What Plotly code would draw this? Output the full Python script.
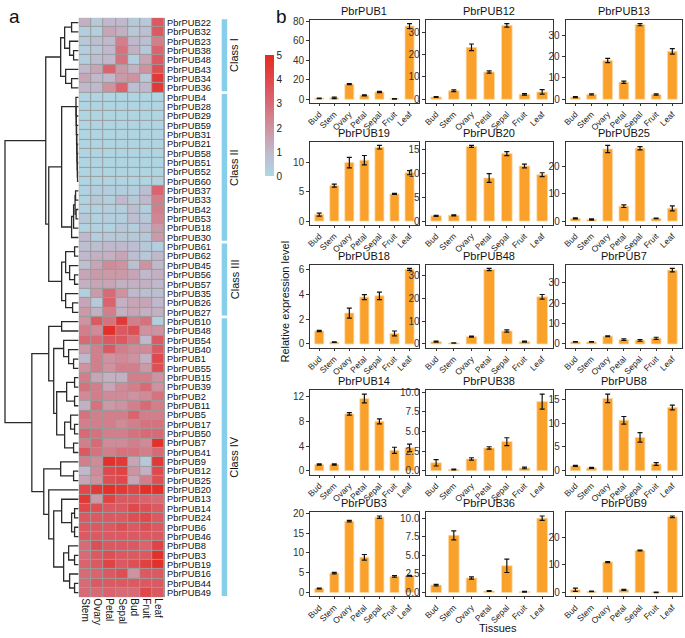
import plotly.graph_objects as go

W, H = 685, 638
FONT = "Liberation Sans, Arial, sans-serif"

# ---------------- heatmap data (panel a) ----------------
heat_cols = ["Stem", "Ovary", "Petal", "Sepal", "Bud", "Fruit", "Leaf"]
heat_genes = [
    "PbrPUB22", "PbrPUB32", "PbrPUB23", "PbrPUB38", "PbrPUB48", "PbrPUB43", "PbrPUB34", "PbrPUB36",
    "PbrPUB4", "PbrPUB28", "PbrPUB29", "PbrPUB59", "PbrPUB31", "PbrPUB21", "PbrPUB58", "PbrPUB51",
    "PbrPUB52", "PbrPUB60", "PbrPUB37", "PbrPUB33", "PbrPUB42", "PbrPUB53", "PbrPUB18", "PbrPUB30",
    "PbrPUB61", "PbrPUB62", "PbrPUB45", "PbrPUB56", "PbrPUB57", "PbrPUB35", "PbrPUB26", "PbrPUB27",
    "PbrPUB10", "PbrPUB48", "PbrPUB54", "PbrPUB40", "PbrPUB1", "PbrPUB55", "PbrPUB15", "PbrPUB39",
    "PbrPUB2", "PbrPUB11", "PbrPUB5", "PbrPUB17", "PbrPUB50", "PbrPUB7", "PbrPUB41", "PbrPUB9",
    "PbrPUB12", "PbrPUB25", "PbrPUB20", "PbrPUB13", "PbrPUB14", "PbrPUB24", "PbrPUB6", "PbrPUB46",
    "PbrPUB8", "PbrPUB3", "PbrPUB19", "PbrPUB16", "PbrPUB44", "PbrPUB49",
]
heat_values = [
    [1.2, 0.5, 1.0, 1.0, 0.5, 0.5, 3.5],
    [0.3, 0.3, 1.5, 1.2, 0.5, 0.8, 3.5],
    [0.5, 0.8, 1.0, 2.5, 1.0, 0.8, 2.5],
    [0.3, 0.5, 1.0, 2.8, 1.2, 0.5, 3.2],
    [0.3, 0.8, 1.0, 2.8, 0.3, 1.5, 3.5],
    [1.0, 1.5, 3.2, 1.8, 1.2, 2.0, 3.8],
    [1.5, 1.0, 1.0, 1.8, 2.0, 0.5, 4.5],
    [1.0, 1.0, 2.0, 3.2, 0.8, 1.0, 4.5],
    [0.1, 0.1, 0.1, 0.1, 0.1, 0.1, 0.1],
    [0.1, 0.1, 0.1, 0.1, 0.1, 0.1, 0.1],
    [0.1, 0.1, 0.1, 0.1, 0.1, 0.1, 0.1],
    [0.1, 0.1, 0.1, 0.1, 0.1, 0.1, 0.1],
    [0.1, 0.1, 0.1, 0.1, 0.1, 0.1, 0.1],
    [0.1, 0.1, 0.1, 0.1, 0.1, 0.1, 0.1],
    [0.1, 0.1, 0.1, 0.1, 0.1, 0.1, 0.1],
    [0.1, 0.1, 0.1, 0.1, 0.1, 0.1, 0.1],
    [0.1, 0.1, 0.1, 0.1, 0.1, 0.1, 0.1],
    [0.1, 0.1, 0.1, 0.1, 0.1, 0.1, 0.2],
    [0.2, 0.3, 0.3, 0.3, 0.3, 0.8, 3.2],
    [0.2, 0.5, 0.3, 1.0, 0.5, 1.0, 2.5],
    [0.2, 0.2, 0.3, 0.3, 0.8, 0.3, 2.5],
    [0.5, 0.2, 0.3, 0.3, 0.8, 0.5, 2.3],
    [0.2, 0.2, 0.2, 0.5, 0.3, 0.8, 1.8],
    [1.0, 0.3, 0.5, 0.5, 0.5, 0.5, 1.8],
    [0.8, 0.8, 1.0, 1.0, 0.8, 0.5, 0.3],
    [1.0, 1.2, 1.2, 1.5, 0.8, 0.5, 1.0],
    [0.8, 1.5, 2.2, 2.0, 0.8, 2.0, 1.0],
    [1.5, 1.8, 1.8, 1.8, 1.5, 1.0, 1.2],
    [1.2, 1.5, 1.5, 1.2, 1.2, 1.2, 1.0],
    [0.3, 1.8, 3.0, 2.0, 1.0, 0.8, 0.8],
    [1.5, 0.5, 3.2, 1.2, 1.5, 1.5, 1.0],
    [1.8, 1.2, 2.5, 1.2, 1.5, 1.2, 1.2],
    [2.0, 3.5, 2.8, 4.5, 2.5, 2.8, 0.3],
    [2.5, 2.2, 4.8, 3.5, 3.8, 2.0, 2.0],
    [3.0, 3.0, 3.5, 3.5, 2.8, 1.0, 3.5],
    [1.8, 2.5, 3.5, 2.5, 2.2, 2.2, 3.5],
    [1.0, 2.5, 2.0, 2.2, 2.0, 1.2, 4.0],
    [2.0, 2.5, 2.0, 2.5, 2.5, 1.8, 3.8],
    [2.5, 1.5, 1.2, 1.2, 2.5, 2.5, 2.0],
    [2.8, 2.5, 1.5, 2.2, 2.5, 3.0, 2.0],
    [2.2, 2.5, 2.2, 2.2, 2.0, 2.2, 2.8],
    [1.2, 2.8, 1.8, 2.0, 2.5, 3.0, 2.5],
    [2.8, 2.5, 2.5, 2.5, 3.2, 2.5, 2.5],
    [2.5, 2.5, 2.5, 2.2, 2.5, 2.8, 2.8],
    [3.0, 2.8, 2.5, 2.5, 2.8, 3.0, 3.0],
    [2.5, 3.0, 2.2, 2.2, 2.5, 2.2, 4.8],
    [3.5, 2.8, 2.5, 2.8, 2.8, 2.5, 3.0],
    [2.5, 2.2, 4.8, 4.5, 1.5, 0.5, 4.5],
    [1.0, 2.2, 4.0, 4.2, 2.0, 1.2, 4.0],
    [1.5, 2.0, 3.8, 4.0, 1.5, 2.5, 3.8],
    [4.0, 4.5, 4.8, 4.5, 4.2, 4.8, 4.8],
    [4.5, 1.8, 4.2, 3.5, 3.5, 3.2, 3.0],
    [4.0, 3.8, 3.5, 3.5, 4.0, 3.8, 3.5],
    [3.5, 3.5, 3.5, 3.5, 3.8, 4.0, 3.5],
    [3.5, 3.5, 3.5, 3.8, 3.5, 3.8, 3.5],
    [3.5, 3.5, 3.5, 3.5, 3.5, 3.5, 3.5],
    [3.0, 3.8, 3.5, 3.5, 3.5, 3.2, 4.2],
    [3.0, 3.5, 3.8, 3.5, 3.5, 3.5, 4.8],
    [3.2, 3.5, 4.2, 3.5, 3.8, 4.3, 4.8],
    [3.0, 3.2, 3.5, 3.8, 2.0, 3.5, 3.5],
    [3.0, 3.5, 3.5, 3.5, 3.5, 3.5, 3.5],
    [3.0, 3.0, 3.2, 3.0, 3.0, 4.0, 3.5],
]
class_names = ["Class I", "Class II", "Class III", "Class IV"]
class_sizes = [8, 16, 8, 30]
colorbar_ticks = [0, 1, 2, 3, 4, 5]

# dendrogram: [height, left, right], leaves are row indices
tree_class1 = [18, [14, [7, 0, 1], [9, 2, [5, 3, 4]]], [13, 5, [7, 6, 7]]]
tree_zero = [2.6, 8, [2.4, 9, [2.2, 10, [2.0, 11, [1.8, 12, [1.6, 13, [1.4, 14, [1.2, 15, [1.0, 16, 17]]]]]]]]]
tree_active = [7, [5, [3.5, [3, 18, 19], [2.5, 20, 21]], 22], 23]
tree_class2 = [17, tree_zero, tree_active]
tree_class3 = [17, [13, [4, 24, 25], [9, 26, [4, 27, 28]]], [13, 29, [6, 30, 31]]]
tree_class4a = [30, [17, 32, 33], [25, [15, 34, [10, 35, [5, 36, 37]]],
                                   [22, [12, [4, 38, 39], [4, 40, 41]], [14, [8, 42, [4, 43, 44]], [5, 45, 46]]]]]
tree_class4b = [35, [18, 47, [5, 48, 49]],
                [30, 50, [25, [17, 51, [7, [4, 52, 53], [4, 54, 55]]],
                          [15, [10, 56, [4, 57, 58]], [9, 59, [4, 60, 61]]]]]]
tree_class4 = [47, tree_class4a, tree_class4b]
tree_root = [74, [33, tree_class1, [30, tree_class2, tree_class3]], tree_class4]

# ---------------- bar data (panel b) ----------------
tissues = ["Bud", "Stem", "Ovary", "Petal", "Sepal", "Fruit", "Leaf"]
bar_genes = ["PbrPUB1", "PbrPUB12", "PbrPUB13", "PbrPUB19", "PbrPUB20", "PbrPUB25",
             "PbrPUB18", "PbrPUB48", "PbrPUB7", "PbrPUB14", "PbrPUB38", "PbrPUB8",
             "PbrPUB3", "PbrPUB36", "PbrPUB9"]

mean_PUB1 = [1.0, 1.5, 15.5, 4.0, 7.5, 0.5, 75.0]
err_PUB1 = [0.3, 0.8, 0.6, 0.6, 0.6, 0.3, 2.5]
ticks_PUB1 = [0, 20, 40, 60, 80]
mean_PUB12 = [1.0, 3.8, 23.2, 12.2, 33.0, 2.2, 3.3]
err_PUB12 = [0.2, 0.4, 1.5, 0.5, 0.8, 0.3, 1.0]
ticks_PUB12 = [0, 10, 20, 30]
mean_PUB13 = [1.0, 2.3, 18.2, 8.0, 35.0, 2.2, 22.5]
err_PUB13 = [0.2, 0.3, 1.0, 0.5, 0.5, 0.3, 1.3]
ticks_PUB13 = [0, 10, 20, 30]
mean_PUB19 = [1.1, 6.0, 9.9, 10.3, 12.5, 4.6, 8.2]
err_PUB19 = [0.25, 0.25, 0.9, 0.8, 0.3, 0.1, 0.35]
ticks_PUB19 = [0, 5, 10]
mean_PUB20 = [1.1, 1.2, 15.6, 9.0, 14.1, 11.5, 9.7]
err_PUB20 = [0.1, 0.1, 0.2, 0.9, 0.4, 0.4, 0.4]
ticks_PUB20 = [0, 5, 10, 15]
mean_PUB25 = [1.0, 0.6, 26.5, 5.5, 26.8, 1.0, 4.7]
err_PUB25 = [0.2, 0.2, 1.3, 0.5, 0.6, 0.1, 0.9]
ticks_PUB25 = [0, 10, 20]
mean_PUB18 = [1.05, 0.15, 2.5, 3.8, 3.9, 0.85, 6.05]
err_PUB18 = [0.05, 0.03, 0.4, 0.2, 0.3, 0.2, 0.08]
ticks_PUB18 = [0, 2, 4, 6]
mean_PUB48 = [1.0, 0.4, 3.2, 32.7, 5.7, 1.0, 20.7]
err_PUB48 = [0.2, 0.1, 0.2, 0.5, 0.5, 0.2, 1.0]
ticks_PUB48 = [0, 10, 20, 30]
mean_PUB7 = [1.0, 1.0, 3.8, 2.1, 1.8, 2.8, 36.3]
err_PUB7 = [0.1, 0.1, 0.2, 0.4, 0.4, 0.5, 0.9]
ticks_PUB7 = [0, 10, 20, 30]
mean_PUB14 = [1.0, 1.0, 9.2, 11.7, 8.0, 3.3, 3.7]
err_PUB14 = [0.1, 0.1, 0.2, 0.7, 0.4, 0.5, 0.6]
ticks_PUB14 = [0, 4, 8, 12]
mean_PUB38 = [1.0, 0.15, 1.5, 2.9, 3.7, 0.35, 8.8]
err_PUB38 = [0.4, 0.05, 0.15, 0.15, 0.5, 0.1, 0.95]
ticks_PUB38 = [0.0, 2.5, 5.0, 7.5, 10.0]
mean_PUB8 = [1.0, 0.6, 15.2, 10.6, 7.0, 1.4, 13.3]
err_PUB8 = [0.1, 0.1, 0.9, 0.8, 1.0, 0.3, 0.5]
ticks_PUB8 = [0, 5, 10, 15]
mean_PUB3 = [1.0, 4.9, 18.0, 8.9, 19.0, 4.1, 4.2]
err_PUB3 = [0.1, 0.2, 0.2, 0.7, 0.3, 0.2, 0.15]
ticks_PUB3 = [0, 5, 10, 15, 20]
mean_PUB36 = [1.0, 7.7, 1.95, 0.2, 3.6, 0.12, 10.0]
err_PUB36 = [0.1, 0.6, 0.15, 0.05, 0.9, 0.05, 0.3]
ticks_PUB36 = [0.0, 2.5, 5.0, 7.5, 10.0]
mean_PUB9 = [1.0, 0.4, 11.0, 1.0, 15.2, 0.1, 27.3]
err_PUB9 = [0.6, 0.1, 0.2, 0.2, 0.15, 0.1, 0.3]
ticks_PUB9 = [0, 10, 20]

bar_means = [mean_PUB1, mean_PUB12, mean_PUB13, mean_PUB19, mean_PUB20, mean_PUB25,
             mean_PUB18, mean_PUB48, mean_PUB7, mean_PUB14, mean_PUB38, mean_PUB8,
             mean_PUB3, mean_PUB36, mean_PUB9]
bar_errs = [err_PUB1, err_PUB12, err_PUB13, err_PUB19, err_PUB20, err_PUB25,
            err_PUB18, err_PUB48, err_PUB7, err_PUB14, err_PUB38, err_PUB8,
            err_PUB3, err_PUB36, err_PUB9]
bar_ticks = [ticks_PUB1, ticks_PUB12, ticks_PUB13, ticks_PUB19, ticks_PUB20, ticks_PUB25,
             ticks_PUB18, ticks_PUB48, ticks_PUB7, ticks_PUB14, ticks_PUB38, ticks_PUB8,
             ticks_PUB3, ticks_PUB36, ticks_PUB9]
decimal_tick_genes = ["PbrPUB38", "PbrPUB36"]

# ---------------- layout helpers ----------------
def fx(p):
    return p / W


def fy(p):
    return 1 - p / H


n_rows = len(heat_genes)
HM_LEFT, HM_RIGHT, HM_TOP, HM_BOTTOM = 75, 162, 14, 599
y_dom = [fy(HM_BOTTOM), fy(HM_TOP)]
y_rng = [n_rows - 0.5, -0.5]

fig = go.Figure()

colorscale = [
    [0.0, "rgb(173,216,230)"],
    [0.2, "rgb(192,184,204)"],
    [0.4, "rgb(206,146,160)"],
    [0.6, "rgb(216,106,118)"],
    [0.8, "rgb(224,72,76)"],
    [1.0, "rgb(230,42,32)"],
]

fig.add_trace(go.Heatmap(
    z=heat_values, x=list(range(len(heat_cols))), y=list(range(n_rows)),
    zmin=0, zmax=5, colorscale=colorscale, xgap=1, ygap=1,
    xaxis="x", yaxis="y", hoverinfo="skip",
    colorbar=dict(
        x=fx(252), xanchor="left", y=fy(113), yanchor="middle",
        len=142 / H, lenmode="fraction", thickness=9, thicknessmode="pixels",
        outlinewidth=0, tickvals=colorbar_ticks, ticks="",
        tickfont=dict(size=10, color="#222", family=FONT),
    ),
))

# dendrogram lines computed from tree
dx, dy = [], []


def walk(node):
    if isinstance(node, int):
        return float(node), 0.0
    h, left, right = node
    yl, hl = walk(left)
    yr, hr = walk(right)
    dx.extend([hl, h, h, hr, None])
    dy.extend([yl, yl, yr, yr, None])
    return (yl + yr) / 2, h


walk(tree_root)
fig.add_trace(go.Scatter(x=dx, y=dy, mode="lines", line=dict(color="#2a2a2a", width=1.3),
                         xaxis="x2", yaxis="y2", hoverinfo="skip", showlegend=False))

layout = dict(
    width=W, height=H, margin=dict(l=0, r=0, t=0, b=0),
    paper_bgcolor="white", plot_bgcolor="white", showlegend=False,
    font=dict(family=FONT, color="#111"),
    xaxis=dict(domain=[fx(HM_LEFT), fx(HM_RIGHT)], range=[-0.55, len(heat_cols) - 0.45],
               tickvals=list(range(len(heat_cols))), ticktext=heat_cols, tickangle=90,
               ticks="", showgrid=False, zeroline=False, anchor="y",
               tickfont=dict(size=10, color="#111", family=FONT)),
    yaxis=dict(domain=y_dom, range=y_rng, side="right", anchor="x",
               tickvals=list(range(n_rows)), ticktext=heat_genes, ticks="",
               showgrid=False, zeroline=False, ticklabelstandoff=1,
               tickfont=dict(size=9.3, color="#111", family=FONT)),
    xaxis2=dict(domain=[0, fx(HM_LEFT)], range=[75, 0], visible=False, anchor="y2"),
    yaxis2=dict(domain=y_dom, range=y_rng, visible=False, anchor="x2"),
)

shapes = [dict(type="rect", xref="x", yref="y", x0=-0.55, x1=len(heat_cols) - 0.45,
               y0=-0.55, y1=n_rows - 0.45, fillcolor="#9b9b9b", line=dict(width=0), layer="below")]
annotations = []

start = 0
for name, size in zip(class_names, class_sizes):
    end = start + size - 1
    shapes.append(dict(type="rect", xref="paper", yref="y", x0=fx(219), x1=fx(224.5),
                       y0=start - 0.35, y1=end + 0.35, fillcolor="#87CEEB", line=dict(width=0)))
    annotations.append(dict(text=name, xref="paper", yref="y", x=fx(232), y=(start + end) / 2,
                            textangle=-90, showarrow=False, font=dict(size=11, color="#111")))
    start += size

# bar panels
col_left = [308, 424, 565]
col_right = [417, 552, 682]
row_top = [16, 139, 263, 390, 513]
row_bot = [100, 223, 347, 475, 598]

for i, gene in enumerate(bar_genes):
    r, c = divmod(i, 3)
    k = i + 3
    xa, ya = f"xaxis{k}", f"yaxis{k}"
    means, errs, ticks = bar_means[i], bar_errs[i], bar_ticks[i]
    top = max(m + e for m, e in zip(means, errs))
    rng = [-0.05 * top, 1.05 * top]
    fig.add_trace(go.Bar(
        x=tissues, y=means, width=0.6, xaxis=f"x{k}", yaxis=f"y{k}",
        marker=dict(color="#F9A12B", line=dict(color="#FDD9A0", width=0.8)),
        error_y=dict(type="data", array=errs, color="#111", thickness=1.2, width=2.5),
        hoverinfo="skip",
    ))
    if gene in decimal_tick_genes:
        ttext = [f"{t:.1f}" for t in ticks]
    else:
        ttext = [f"{t:g}" for t in ticks]
    layout[xa] = dict(domain=[fx(col_left[c]), fx(col_right[c])], anchor=f"y{k}",
                      range=[-0.6, len(tissues) - 0.4], tickangle=-45,
                      ticks="outside", ticklen=2, tickcolor="#333",
                      showline=True, mirror=True, linecolor="#333", linewidth=1,
                      showgrid=False, zeroline=False, ticklabelstandoff=0,
                      tickfont=dict(size=8.5, color="#222", family=FONT))
    layout[ya] = dict(domain=[fy(row_bot[r]), fy(row_top[r])], anchor=f"x{k}",
                      range=rng, tickvals=ticks, ticktext=ttext,
                      ticks="outside", ticklen=3, tickcolor="#333",
                      showline=True, mirror=True, linecolor="#333", linewidth=1,
                      showgrid=False, zeroline=False,
                      tickfont=dict(size=10, color="#333", family=FONT))
    annotations.append(dict(text=gene, xref="paper", yref="paper",
                            x=fx((col_left[c] + col_right[c]) / 2), y=fy(row_top[r] - 1),
                            xanchor="center", yanchor="bottom", showarrow=False,
                            font=dict(size=11, color="#111")))

annotations += [
    dict(text="Relative expression level", xref="paper", yref="paper", x=fx(283), y=fy(300),
         textangle=-90, showarrow=False, font=dict(size=11, color="#111")),
    dict(text="Tissues", xref="paper", yref="paper", x=fx(497), y=fy(638),
         xanchor="center", yanchor="bottom", showarrow=False, font=dict(size=11, color="#111")),
    dict(text="a", xref="paper", yref="paper", x=fx(3), y=fy(0), xanchor="left", yanchor="top",
         showarrow=False, font=dict(size=19, color="#111")),
    dict(text="b", xref="paper", yref="paper", x=fx(272), y=fy(0), xanchor="left", yanchor="top",
         showarrow=False, font=dict(size=19, color="#111")),
]

layout["shapes"] = shapes
layout["annotations"] = annotations
fig.update_layout(**layout)
fig.write_html("out.html", config={"displayModeBar": False},
               post_script="document.body.style.margin='0px';document.body.style.overflow='hidden';")
